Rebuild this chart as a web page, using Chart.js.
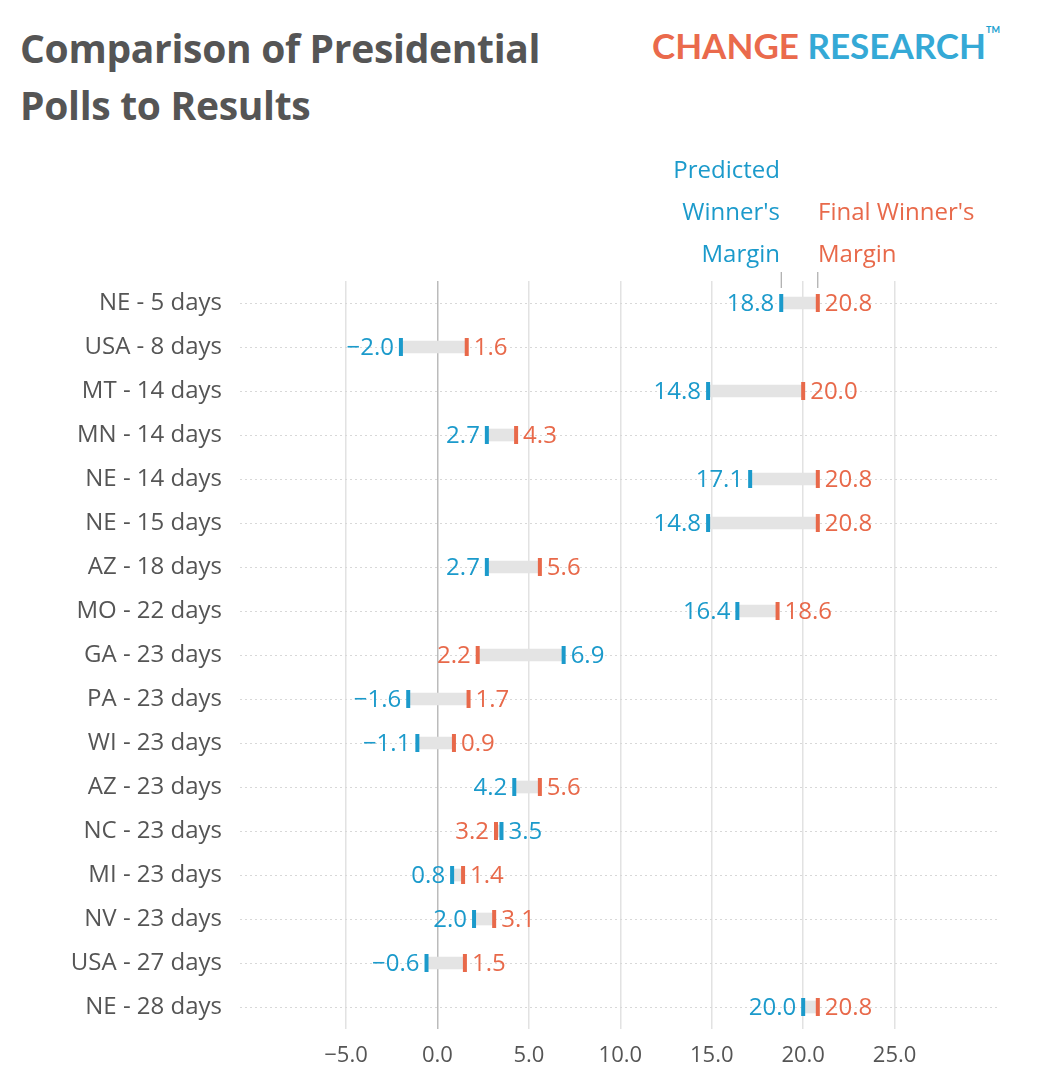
<!DOCTYPE html>
<html><head><meta charset="utf-8">
<script src="https://cdn.jsdelivr.net/npm/chart.js@4/dist/chart.umd.min.js"></script>
<style>
body{margin:0;background:#fff;font-family:"Open Sans",sans-serif;}
#wrap{position:relative;width:1040px;height:1086px;}
#title{position:absolute;left:20px;top:19px;font-size:39px;font-weight:bold;color:#555;line-height:57px;font-family:"Open Sans",sans-serif;letter-spacing:-0.3px;}
#logo{position:absolute;left:652px;top:24px;font-size:35px;font-weight:bold;font-family:Lato,sans-serif;}
#logo sup{font-size:9px;color:#1aa0cf;vertical-align:top;}
canvas{position:absolute;left:0;top:0;}
</style></head><body>
<div id="wrap">
<div id="title">Comparison of Presidential<br>Polls to Results</div>
<div id="logo"><span style="color:#ea6a4c">CHANGE</span> <span style="color:#35a9d6">RESEARCH</span><sup>TM</sup></div>
<canvas id="c" width="1040" height="1086"></canvas>
</div>
<script>
const categories = ['NE - 5 days','USA - 8 days','MT - 14 days','MN - 14 days','NE - 14 days','NE - 15 days','AZ - 18 days','MO - 22 days','GA - 23 days','PA - 23 days','WI - 23 days','AZ - 23 days','NC - 23 days','MI - 23 days','NV - 23 days','USA - 27 days','NE - 28 days'];
const predicted = [18.8,-2.0,14.8,2.7,17.1,14.8,2.7,16.4,6.9,-1.6,-1.1,4.2,3.5,0.8,2.0,-0.6,20.0];
const final = [20.8,1.6,20.0,4.3,20.8,20.8,5.6,18.6,2.2,1.7,0.9,5.6,3.2,1.4,3.1,1.5,20.8];
const xTicks = [-5,0,5,10,15,20,25];

const BLUE='#1b9acb', ORANGE='#e8694a', TXT='#555';
const FONT='"Open Sans", sans-serif';
const fmt = v => (v<0?'\u2212':'')+Math.abs(v).toFixed(1);

const marks = {
  id:'marks',
  afterDatasetsDraw(chart){
    const {ctx, scales:{x,y}} = chart;
    ctx.save();
    ctx.font = '24px '+FONT;
    ctx.textBaseline = 'middle';
    categories.forEach((c,i)=>{
      const yy = y.getPixelForValue(i);
      const p = predicted[i], f = final[i];
      [[p,BLUE,p<f],[f,ORANGE,f<p]].forEach(([v,col,low])=>{
        const xx = x.getPixelForValue(v);
        ctx.fillStyle = col;
        ctx.fillRect(xx-2, yy-9, 4, 18);
        if(low){ ctx.textAlign='right'; ctx.fillText(fmt(v), xx-7, yy+1); }
        else { ctx.textAlign='left'; ctx.fillText(fmt(v), xx+7, yy+1); }
      });
    });
    const xp = x.getPixelForValue(predicted[0]), xf = x.getPixelForValue(final[0]);
    ctx.strokeStyle='#999'; ctx.lineWidth=1;
    ctx.beginPath(); ctx.moveTo(xp,272); ctx.lineTo(xp,288); ctx.moveTo(xf,272); ctx.lineTo(xf,288); ctx.stroke();
    ctx.fillStyle=BLUE; ctx.textAlign='right';
    ctx.fillText('Predicted', 780, 171); ctx.fillText("Winner's", 780, 213); ctx.fillText('Margin', 780, 255);
    ctx.fillStyle=ORANGE; ctx.textAlign='left';
    ctx.fillText("Final Winner's", 818, 213); ctx.fillText('Margin', 818, 255);
    ctx.restore();
  }
};

new Chart(document.getElementById('c'), {
  type:'bar',
  data:{labels:categories, datasets:[{
    data: categories.map((c,i)=>[Math.min(predicted[i],final[i]), Math.max(predicted[i],final[i])]),
    backgroundColor:'#e4e4e4', barThickness:12, borderSkipped:false
  }]},
  options:{
    indexAxis:'y', responsive:false, animation:false,
    layout:{padding:{top:281,right:43,left:0,bottom:0}},
    plugins:{legend:{display:false}, tooltip:{enabled:false}},
    scales:{
      x:{min:-10.8,max:30.6,
        afterBuildTicks(s){ s.ticks = xTicks.map(v=>({value:v})); },
        afterFit(s){ s.height = 57; },
        border:{display:false},
        grid:{color:ctx=>ctx.tick && ctx.tick.value===0 ? '#bbb' : '#e2e2e2', lineWidth:1.5, drawTicks:false},
        ticks:{color:TXT, font:{size:22,family:FONT}, padding:14, callback:v=>fmt(v)}
      },
      y:{
        afterFit(s){ s.width = 240; },
        border:{display:false, dash:[2,3]},
        grid:{color:'#d8d8d8', offset:false, drawTicks:false},
        ticks:{color:TXT, font:{size:24,family:FONT}, padding:18}
      }
    }
  },
  plugins:[marks]
});
</script>
</body></html>
